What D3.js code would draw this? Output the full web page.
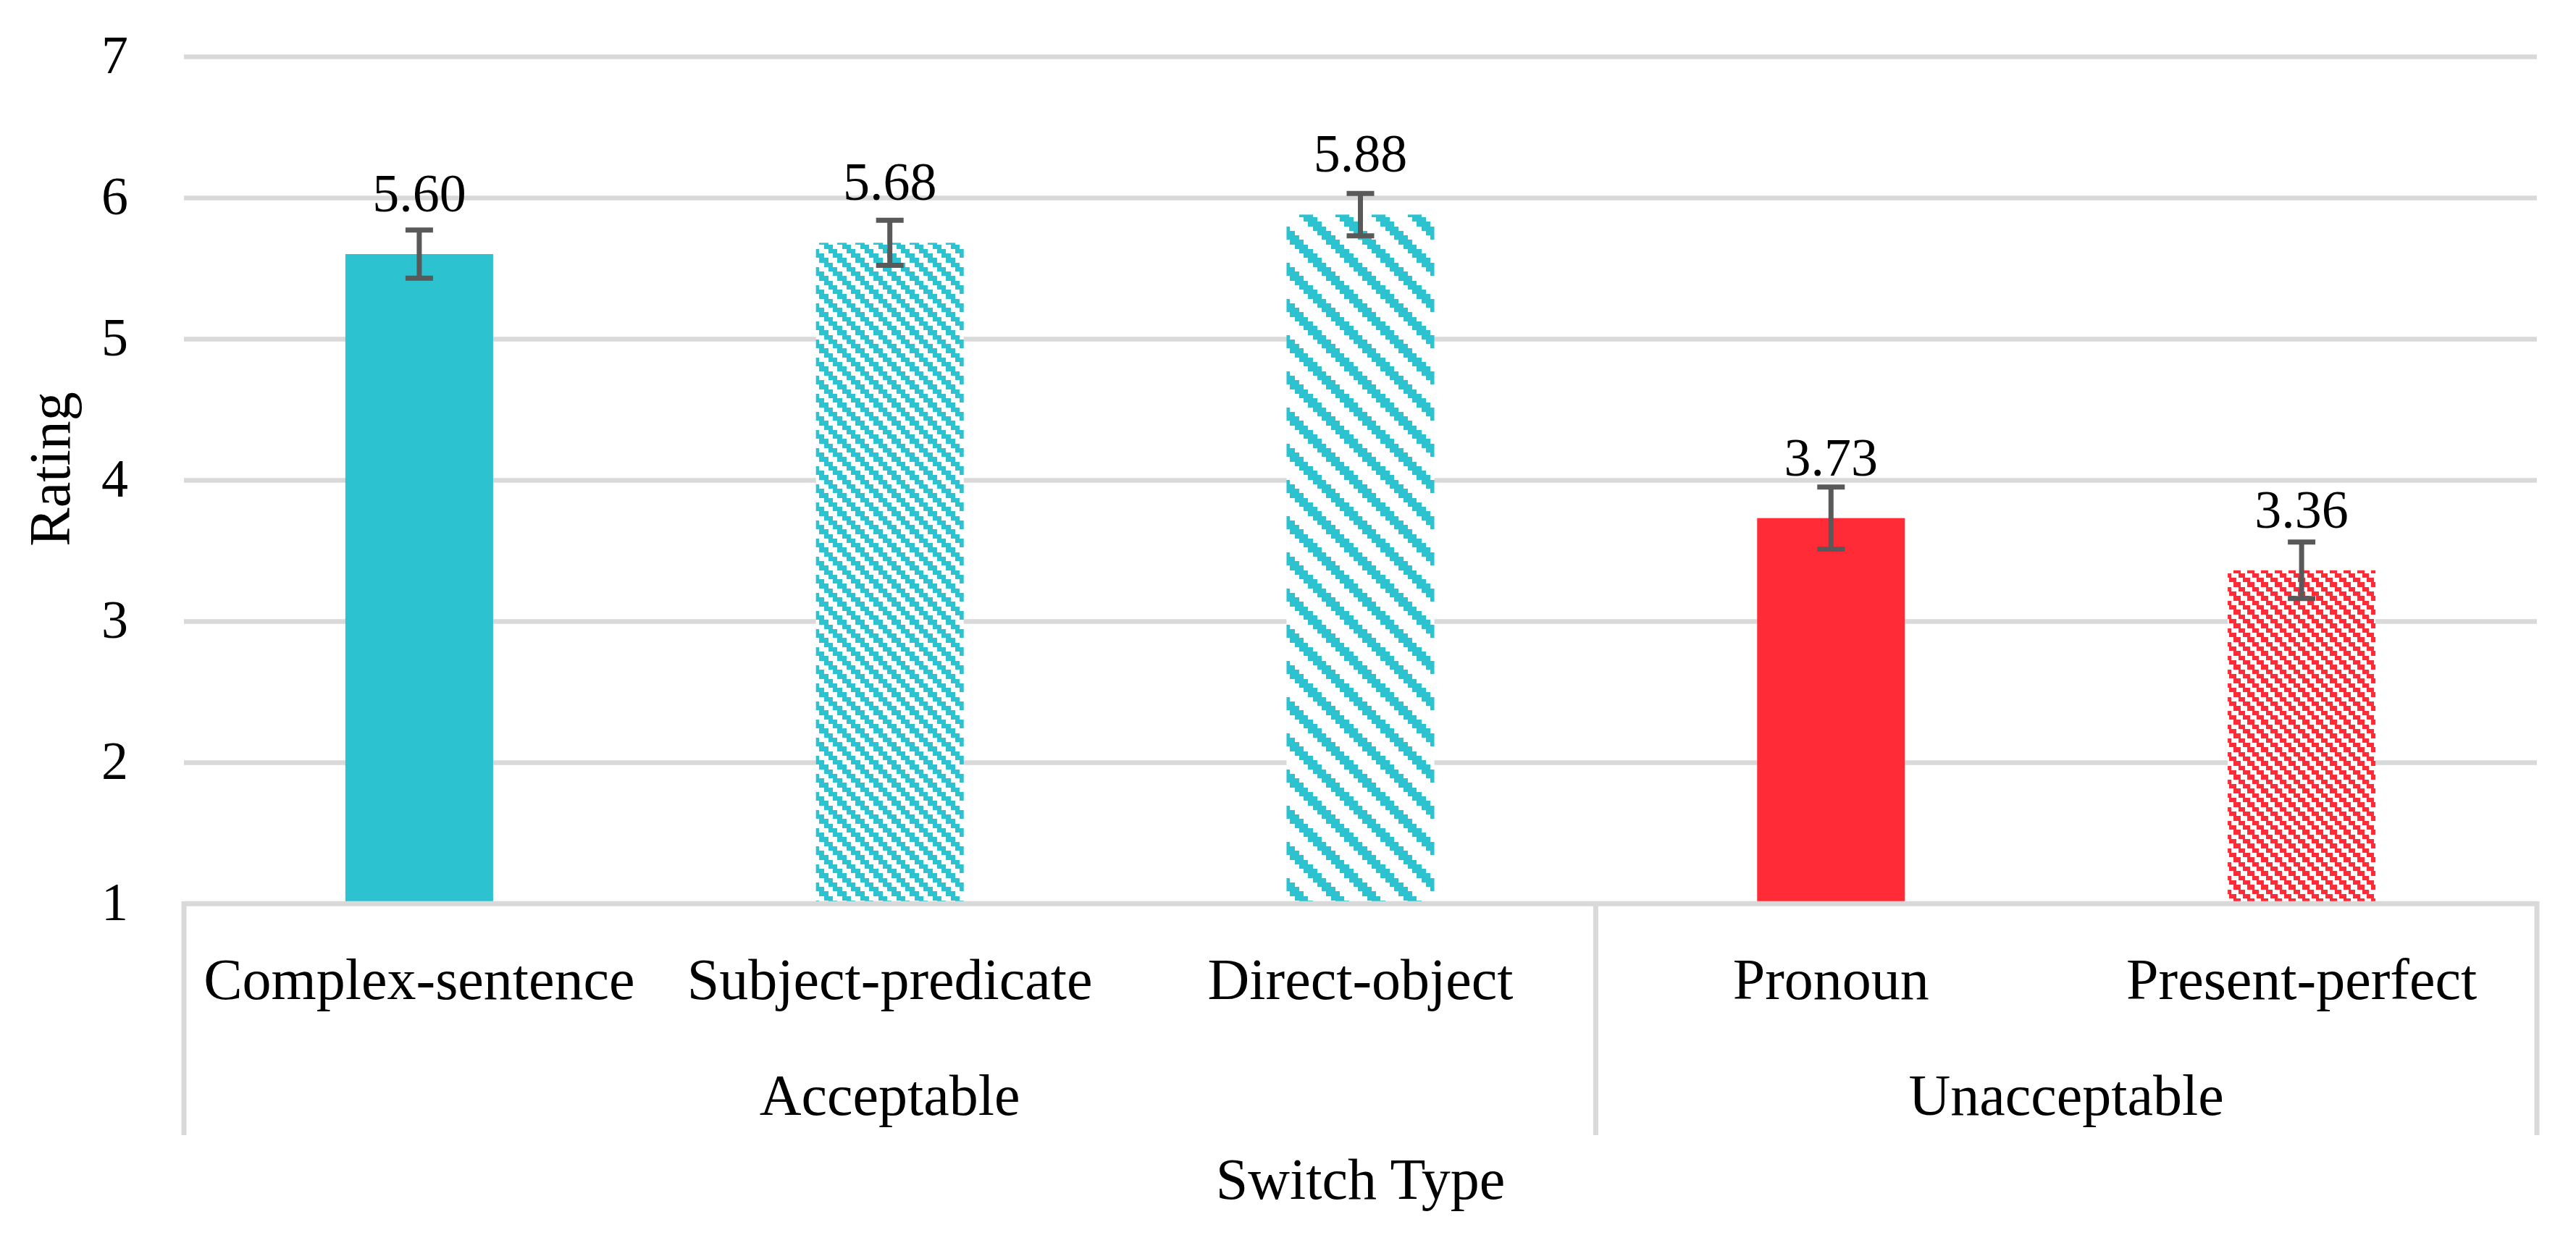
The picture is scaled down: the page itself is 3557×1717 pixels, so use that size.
<!DOCTYPE html>
<html>
<head>
<meta charset="utf-8">
<script src="https://cdn.jsdelivr.net/npm/d3@7/dist/d3.min.js"></script>
<style>
  html, body { margin: 0; padding: 0; background: #ffffff; }
  svg { display: block; }
  text { font-family: "Liberation Serif", "Times New Roman", serif; fill: #000; }
</style>
</head>
<body>
<script>
// ---- data ----
const categories = ["Complex-sentence", "Subject-predicate", "Direct-object", "Pronoun", "Present-perfect"];
const groupOf    = ["Acceptable", "Acceptable", "Acceptable", "Unacceptable", "Unacceptable"];
const groups     = ["Acceptable", "Unacceptable"];
const means      = [5.60, 5.68, 5.88, 3.73, 3.36];
const errors     = [0.17, 0.16, 0.15, 0.22, 0.20];
const fills      = ["tealSolid", "tealNarrow", "tealWide", "redSolid", "redNarrow"];
const yTicks     = [1, 2, 3, 4, 5, 6, 7];
const yTitle = "Rating";
const xTitle = "Switch Type";

// ---- layout ----
const W = 3557, H = 1717;
const plot = { left: 254, right: 3503, top: 78, bottom: 1248 };
const TEAL = "#2DC2D0", RED = "#FF2B36", GRID = "#D9D9D9", ERR = "#595959";
const WORD_SIZE = 80, NUM_SIZE = 74;

const svg = d3.select("body").append("svg").attr("width", W).attr("height", H);
const defs = svg.append("defs");

function stairPattern(id, color, period, steps, widthSteps) {
  const h = period / steps;
  const p = defs.append("pattern").attr("id", id)
    .attr("patternUnits", "userSpaceOnUse")
    .attr("width", period).attr("height", period);
  p.append("rect").attr("width", period).attr("height", period).attr("fill", "#fff");
  const w = widthSteps * h;
  for (let r = 0; r < steps; r++) {
    const x0 = r * h;
    [x0, x0 - period].forEach(x => {
      p.append("rect").attr("x", x).attr("y", r * h)
        .attr("width", w).attr("height", h + 0.01)
        .attr("fill", color).attr("shape-rendering", "crispEdges");
    });
  }
}
stairPattern("tealNarrow", TEAL, 25, 4, 2);
stairPattern("tealWide", TEAL, 50, 8, 3);
stairPattern("redNarrow", RED, 19, 3, 1.5);
const fillMap = { tealSolid: TEAL, redSolid: RED, tealNarrow: "url(#tealNarrow)", tealWide: "url(#tealWide)", redNarrow: "url(#redNarrow)" };

const x = d3.scaleBand().domain(categories).range([plot.left, plot.right]).padding(0);
const y = d3.scaleLinear().domain([1, 7]).range([plot.bottom, plot.top]);
const barW = x.bandwidth() * 0.314;

// gridlines via axis
const yAxis = d3.axisLeft(y).tickValues(yTicks).tickSize(-(plot.right - plot.left)).tickFormat(d3.format("d")).tickPadding(77);
const gy = svg.append("g").attr("transform", `translate(${plot.left},0)`).call(yAxis);
gy.select(".domain").remove();
gy.selectAll(".tick line").attr("stroke", GRID).attr("stroke-width", 6.5);
gy.selectAll(".tick text").attr("font-size", NUM_SIZE).attr("fill", "#000")
  .attr("font-family", "Liberation Serif, serif").attr("dy", "0.3em");

// bars
const data = categories.map((c, i) => ({ c, g: groupOf[i], v: means[i], e: errors[i], f: fills[i] }));
svg.append("g").selectAll("rect").data(data).join("rect")
  .attr("x", d => x(d.c) + x.bandwidth() / 2 - barW / 2)
  .attr("y", d => y(d.v))
  .attr("width", barW)
  .attr("height", d => y(1) - y(d.v))
  .attr("fill", d => fillMap[d.f]);

// error bars
const eg = svg.append("g").attr("stroke", ERR).attr("stroke-width", 7).attr("fill", "none");
data.forEach(d => {
  const cx = x(d.c) + x.bandwidth() / 2;
  eg.append("line").attr("x1", cx).attr("x2", cx).attr("y1", y(d.v + d.e)).attr("y2", y(d.v - d.e));
  [d.v + d.e, d.v - d.e].forEach(v => {
    eg.append("line").attr("x1", cx - 19).attr("x2", cx + 19).attr("y1", y(v)).attr("y2", y(v));
  });
});

// data labels
svg.append("g").selectAll("text").data(data).join("text")
  .attr("x", d => x(d.c) + x.bandwidth() / 2)
  .attr("y", d => y(d.v) - 59)
  .attr("text-anchor", "middle").attr("font-size", NUM_SIZE)
  .text(d => d3.format(".2f")(d.v));

// category axis line (baseline)
svg.append("line").attr("x1", plot.left).attr("x2", plot.right)
  .attr("y1", y(1)).attr("y2", y(1)).attr("stroke", GRID).attr("stroke-width", 6.5);

// group separators
const groupBounds = groups.map(g => {
  const cats = categories.filter((c, i) => groupOf[i] === g);
  return { g, x0: x(cats[0]), x1: x(cats[cats.length - 1]) + x.bandwidth() };
});
const seps = [plot.left].concat(groupBounds.map(b => b.x1));
svg.append("g").selectAll("line").data(seps).join("line")
  .attr("x1", d => d).attr("x2", d => d)
  .attr("y1", y(1) - 3).attr("y2", 1568)
  .attr("stroke", GRID).attr("stroke-width", 7);

// category labels
svg.append("g").selectAll("text").data(categories).join("text")
  .attr("x", d => x(d) + x.bandwidth() / 2).attr("y", 1380)
  .attr("text-anchor", "middle").attr("font-size", WORD_SIZE).text(d => d);

// group labels
svg.append("g").selectAll("text").data(groupBounds).join("text")
  .attr("x", d => (d.x0 + d.x1) / 2).attr("y", 1540)
  .attr("text-anchor", "middle").attr("font-size", WORD_SIZE).text(d => d.g);

// axis titles
svg.append("text").attr("x", (plot.left + plot.right) / 2).attr("y", 1656)
  .attr("text-anchor", "middle").attr("font-size", WORD_SIZE).text(xTitle);
svg.append("text").attr("transform", `translate(96, ${(plot.top + plot.bottom) / 2 - 15}) rotate(-90)`)
  .attr("text-anchor", "middle").attr("font-size", WORD_SIZE).text(yTitle);
</script>
</body>
</html>
